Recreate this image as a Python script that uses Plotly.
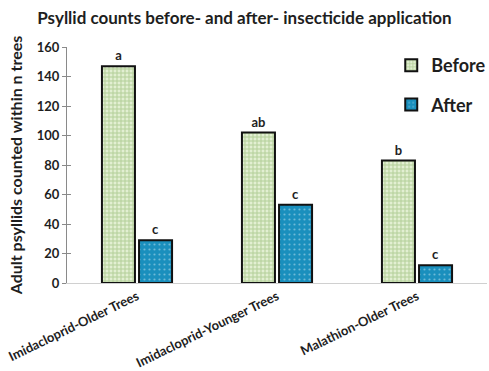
import plotly.graph_objects as go

categories = ["Imidacloprid-Older Trees", "Imidacloprid-Younger Trees", "Malathion-Older Trees"]
before_counts = [147, 102, 83]
after_counts = [29, 53, 12]
before_letters = ["a", "ab", "b"]
after_letters = ["c", "c", "c"]
y_ticks = [0, 20, 40, 60, 80, 100, 120, 140, 160]

FONT = "Lato"
INK = "#1e1e1e"
AXIS_GREY = "#8a8a8a"

fig = go.Figure()
fig.add_trace(go.Bar(
    name="<b>Before</b>", x=categories, y=before_counts,
    text=[f"<b>{t}</b>" for t in before_letters], textposition="outside", cliponaxis=False,
    textfont=dict(family=FONT, size=13, color=INK),
    marker=dict(color="#e3efd3", line=dict(color="#111", width=2),
                pattern=dict(shape="+", fgcolor="#84b060", bgcolor="#e2efd2",
                             size=4, solidity=0.45)),
    legendgroup="b",
))
fig.add_trace(go.Bar(
    name="<b>After</b>", x=categories, y=after_counts,
    text=[f"<b>{t}</b>" for t in after_letters], textposition="outside", cliponaxis=False,
    textfont=dict(family=FONT, size=13, color=INK),
    marker=dict(color="#1a8fbd", line=dict(color="#111", width=2),
                pattern=dict(shape=".", fgcolor="#bfe3f0", bgcolor="#1a8fbd",
                             size=5, solidity=0.15)),
    legendgroup="a",
))
# empty trace on an overlaid axis, used only for the inward half of the y ticks
fig.add_trace(go.Scatter(x=[None], y=[None], yaxis="y2", showlegend=False, hoverinfo="skip"))

fig.update_layout(
    width=489, height=371,
    margin=dict(l=67, r=2, t=47, b=88, autoexpand=False),
    paper_bgcolor="white", plot_bgcolor="white",
    barmode="group", bargap=0.47, bargroupgap=0.11,
    title=dict(text="<b>Psyllid counts before- and after- insecticide application</b>",
               x=0.5, xanchor="center", y=0.952, yanchor="middle",
               font=dict(family=FONT, size=17, color=INK)),
    legend=dict(x=0.772, y=1.0, xanchor="left", yanchor="top",
                font=dict(family=FONT, size=18, color=INK),
                tracegroupgap=13, bgcolor="rgba(0,0,0,0)"),
    font=dict(family=FONT, color=INK),
    xaxis=dict(
        showgrid=False, showline=True, linecolor="#d0d0d0", linewidth=1,
        tickangle=-26, ticktext=[f"<b>{c}</b>" for c in categories], tickvals=categories,
        tickfont=dict(family=FONT, size=13, color=INK),
    ),
    yaxis=dict(
        range=[0, 160], tickvals=y_ticks, ticktext=[f"<b>{v}</b>" for v in y_ticks],
        showgrid=False, zeroline=False, showline=True, linecolor=AXIS_GREY, linewidth=1,
        ticks="outside", ticklen=4, tickcolor=AXIS_GREY,
        tickfont=dict(family=FONT, size=13, color=INK),
        title=dict(text="<b>Adult psyllids counted within n trees</b>", standoff=10,
                   font=dict(family=FONT, size=16, color=INK)),
    ),
    yaxis2=dict(overlaying="y", side="left", range=[0, 160], tickvals=y_ticks,
                showticklabels=False, ticks="inside", ticklen=4, tickcolor=AXIS_GREY,
                showgrid=False, zeroline=False, showline=False),
)

fig.write_html("out.html")
